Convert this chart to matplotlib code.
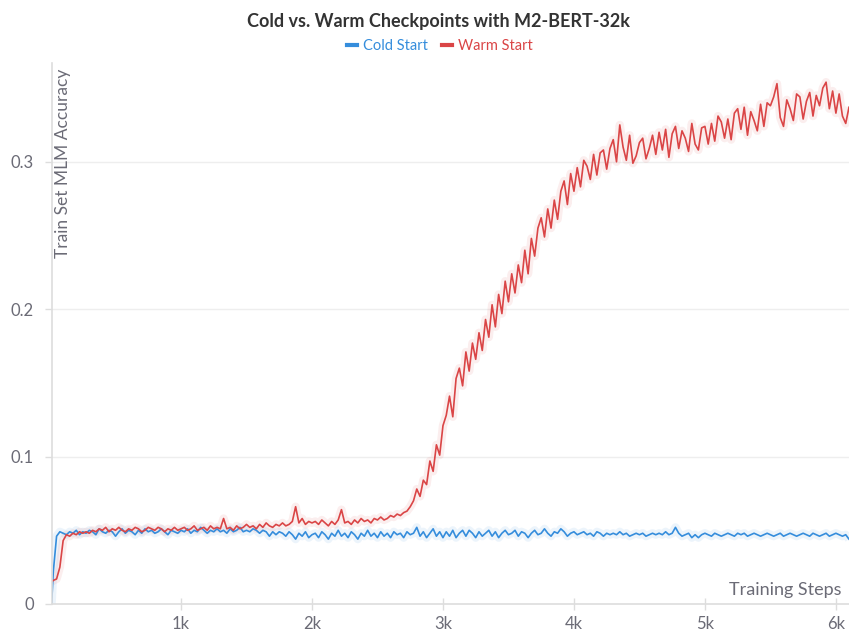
import numpy as np
import matplotlib
matplotlib.use("Agg")
import matplotlib.pyplot as plt

plt.rcParams['font.family'] = ['Lato', 'DejaVu Sans']

# training steps (first logged point, then every 25 steps)
steps = np.concatenate([[12], np.arange(25, 6101, 25)])

cold_start = [
    0.0,
    0.022, 0.046, 0.049, 0.048, 0.047, 0.049, 0.048, 0.050, 0.047, 0.049,
    0.048, 0.050, 0.049, 0.047, 0.051, 0.049, 0.048, 0.050, 0.049, 0.046,
    0.049, 0.051, 0.048, 0.050, 0.049, 0.047, 0.050, 0.048, 0.051, 0.049,
    0.050, 0.048, 0.049, 0.051, 0.049, 0.047, 0.050, 0.049, 0.048, 0.050,
    0.049, 0.051, 0.048, 0.050, 0.049, 0.052, 0.050, 0.048, 0.050, 0.049,
    0.051, 0.049, 0.050, 0.048, 0.051, 0.049, 0.050, 0.052, 0.049, 0.050,
    0.049, 0.051, 0.050, 0.048, 0.050, 0.049, 0.046, 0.049, 0.047, 0.049,
    0.048, 0.046, 0.049, 0.047, 0.044, 0.048, 0.046, 0.049, 0.045, 0.047,
    0.048, 0.045, 0.049, 0.047, 0.044, 0.048, 0.046, 0.050, 0.046, 0.048,
    0.045, 0.049, 0.047, 0.044, 0.048, 0.046, 0.050, 0.046, 0.048, 0.045,
    0.049, 0.046, 0.048, 0.045, 0.049, 0.047, 0.048, 0.045, 0.049, 0.047,
    0.048, 0.052, 0.046, 0.049, 0.045, 0.048, 0.051, 0.046, 0.049, 0.045,
    0.049, 0.046, 0.050, 0.045, 0.048, 0.050, 0.046, 0.050, 0.048, 0.045,
    0.049, 0.046, 0.048, 0.050, 0.046, 0.049, 0.045, 0.048, 0.050, 0.047,
    0.048, 0.050, 0.046, 0.049, 0.048, 0.045, 0.048, 0.050, 0.047, 0.048,
    0.051, 0.048, 0.046, 0.049, 0.048, 0.051, 0.049, 0.046, 0.048, 0.049,
    0.047, 0.048, 0.049, 0.047, 0.048, 0.046, 0.049, 0.048, 0.046, 0.048,
    0.047, 0.048, 0.047, 0.049, 0.047, 0.048, 0.046, 0.047, 0.048, 0.047,
    0.048, 0.046, 0.047, 0.048, 0.047, 0.048, 0.047, 0.049, 0.047, 0.048,
    0.052, 0.048, 0.046, 0.047, 0.048, 0.045, 0.047, 0.045, 0.047, 0.048,
    0.047, 0.046, 0.048, 0.047, 0.046, 0.047, 0.048, 0.047, 0.046, 0.048,
    0.047, 0.048, 0.046, 0.047, 0.048, 0.047, 0.046, 0.047, 0.048, 0.047,
    0.046, 0.047, 0.048, 0.046, 0.047, 0.048, 0.047, 0.046, 0.047, 0.048,
    0.047, 0.046, 0.048, 0.047, 0.046, 0.047, 0.048, 0.046, 0.047, 0.048,
    0.047, 0.046, 0.047, 0.044,
]

warm_start = [
    0.015,
    0.016, 0.017, 0.025, 0.043, 0.047, 0.046, 0.048, 0.047, 0.049, 0.048,
    0.049, 0.048, 0.050, 0.049, 0.051, 0.050, 0.052, 0.049, 0.051, 0.050,
    0.052, 0.050, 0.049, 0.051, 0.050, 0.052, 0.051, 0.049, 0.050, 0.052,
    0.051, 0.050, 0.052, 0.051, 0.049, 0.051, 0.050, 0.052, 0.050, 0.051,
    0.052, 0.050, 0.051, 0.053, 0.050, 0.051, 0.052, 0.050, 0.053, 0.051,
    0.052, 0.051, 0.058, 0.051, 0.052, 0.050, 0.053, 0.051, 0.052, 0.054,
    0.052, 0.053, 0.051, 0.054, 0.052, 0.055, 0.053, 0.052, 0.054, 0.053,
    0.055, 0.053, 0.054, 0.056, 0.066, 0.055, 0.058, 0.054, 0.056, 0.055,
    0.056, 0.054, 0.057, 0.055, 0.053, 0.056, 0.054, 0.057, 0.064, 0.055,
    0.056, 0.054, 0.057, 0.055, 0.058, 0.056, 0.057, 0.055, 0.058, 0.057,
    0.059, 0.057, 0.058, 0.060, 0.059, 0.061, 0.060, 0.062, 0.063, 0.066,
    0.070, 0.078, 0.073, 0.084, 0.081, 0.097, 0.090, 0.108, 0.101, 0.121,
    0.128, 0.141, 0.127, 0.153, 0.160, 0.148, 0.171, 0.158, 0.177, 0.166,
    0.184, 0.172, 0.193, 0.181, 0.203, 0.188, 0.210, 0.197, 0.219, 0.205,
    0.224, 0.211, 0.230, 0.218, 0.240, 0.224, 0.248, 0.236, 0.255, 0.262,
    0.249, 0.268, 0.255, 0.274, 0.261, 0.280, 0.287, 0.271, 0.292, 0.280,
    0.296, 0.283, 0.301, 0.297, 0.288, 0.305, 0.291, 0.306, 0.308, 0.295,
    0.309, 0.315, 0.300, 0.325, 0.310, 0.301, 0.318, 0.299, 0.304, 0.313,
    0.316, 0.302, 0.309, 0.318, 0.305, 0.320, 0.308, 0.322, 0.303, 0.319,
    0.324, 0.309, 0.321, 0.316, 0.307, 0.326, 0.312, 0.308, 0.323, 0.324,
    0.312, 0.326, 0.314, 0.331, 0.327, 0.316, 0.329, 0.315, 0.333, 0.336,
    0.322, 0.337, 0.318, 0.334, 0.328, 0.321, 0.339, 0.324, 0.340, 0.338,
    0.344, 0.353, 0.330, 0.324, 0.342, 0.336, 0.328, 0.346, 0.344, 0.329,
    0.341, 0.347, 0.331, 0.345, 0.338, 0.350, 0.354, 0.336, 0.348, 0.333,
    0.346, 0.331, 0.326, 0.337,
]

y_ticks = [0, 0.1, 0.2, 0.3]
y_tick_labels = ['0', '0.1', '0.2', '0.3']
x_ticks = [1000, 2000, 3000, 4000, 5000, 6000]
x_tick_labels = ['1k', '2k', '3k', '4k', '5k', '6k']

blue = '#358ddc'
red = '#da4546'
gray_text = '#6b6b76'

fig = plt.figure(figsize=(8.49, 6.37), dpi=100)
ax = fig.add_axes([52 / 849, 33 / 637, 797 / 849, 541 / 637])

# faint band behind each line, then the line itself
ax.plot(steps, cold_start, color=blue, lw=6, alpha=0.09, solid_capstyle='butt')
ax.plot(steps, warm_start, color=red, lw=6, alpha=0.09, solid_capstyle='butt')
ax.plot(steps, cold_start, color=blue, lw=1.2, label='Cold Start')
ax.plot(steps, warm_start, color=red, lw=1.2, label='Warm Start')

ax.set_xlim(15, 6100)
ax.set_ylim(0, 0.367)

ax.set_yticks(y_ticks)
ax.set_yticklabels(y_tick_labels)
ax.set_xticks(x_ticks)
ax.set_xticklabels(x_tick_labels)
ax.tick_params(axis='y', direction='out', length=5, width=1, color='#dddddd',
               labelcolor=gray_text, labelsize=12, pad=8)
ax.tick_params(axis='x', direction='inout', length=9, width=1, color='#dddddd',
               labelcolor=gray_text, labelsize=12, pad=4)

for s in ['top', 'right']:
    ax.spines[s].set_visible(False)
for s in ['left', 'bottom']:
    ax.spines[s].set_color('#dddddd')
    ax.spines[s].set_linewidth(1.2)

ax.yaxis.grid(True, color='#eeeeee', lw=1)
ax.set_axisbelow(True)

ax.text(0.004, 0.99, 'Train Set MLM Accuracy', transform=ax.transAxes,
        rotation=90, ha='left', va='top', color=gray_text, fontsize=12.5)
ax.text(0.99, 0.012, 'Training Steps', transform=ax.transAxes,
        ha='right', va='bottom', color=gray_text, fontsize=13)

fig.text(0.516, 0.967, 'Cold vs. Warm Checkpoints with M2-BERT-32k',
         ha='center', va='center', fontsize=13, fontweight='bold', color='#333333')

leg = fig.legend(loc='center', bbox_to_anchor=(0.518, 0.928), ncol=2,
                 frameon=False, handlelength=0.7, handletextpad=0.4,
                 columnspacing=1.0, fontsize=10.5, labelcolor='linecolor')
for line in leg.get_lines():
    line.set_linewidth(3)

fig.savefig('out.png', dpi=100)
